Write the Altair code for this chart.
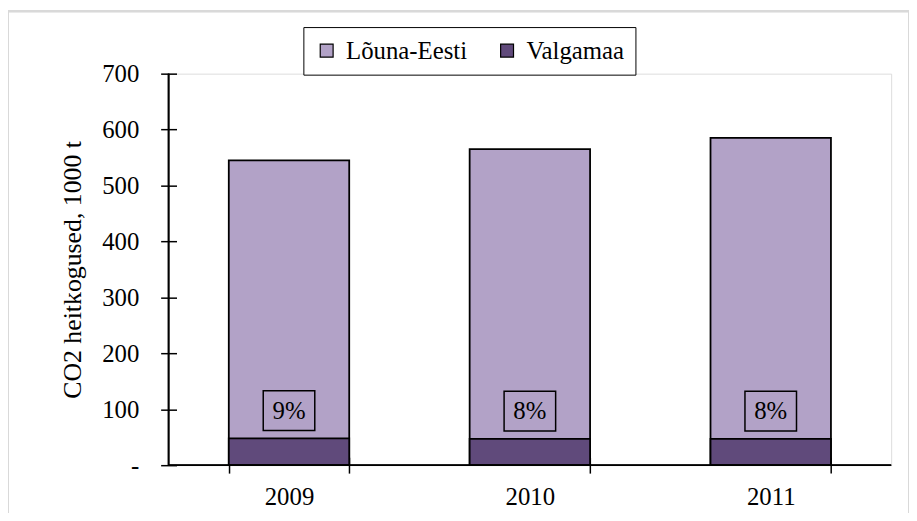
import altair as alt
import pandas as pd

years = ["2009", "2010", "2011"]
louna_eesti = [545, 565, 585]
valgamaa = [48, 47, 47]
series = ["Lõuna-Eesti", "Valgamaa"]
colors = ["#B2A2C7", "#604A7B"]
y_ticks = [0, 100, 200, 300, 400, 500, 600, 700]
y_title = "CO2 heitkogused, 1000 t"

FONT = "Liberation Serif"
FS = 25

rows = []
for i, yr in enumerate(years):
    rows.append({"year": yr, "series": series[0], "value": louna_eesti[i], "ord": 0})
    rows.append({"year": yr, "series": series[1], "value": valgamaa[i], "ord": 1})
bars_df = pd.DataFrame(rows)

share_df = pd.DataFrame({
    "year": years,
    "valgamaa": valgamaa,
    "share": [v / t for v, t in zip(valgamaa, louna_eesti)],
})

xscale = alt.Scale(domain=years, paddingInner=0.5, paddingOuter=0.25)
yscale = alt.Scale(domain=[0, 700], nice=False, zero=True)

W, H = 729, 395

bars = alt.Chart(bars_df).mark_bar(stroke="black", strokeWidth=1.8).encode(
    x=alt.X("year:N", scale=xscale, sort=years,
            axis=alt.Axis(title=None, tickBand="extent", labelAngle=0, offset=-8,
                          tickSize=16, tickWidth=1.5, tickColor="black",
                          domain=False,
                          labelFont=FONT, labelFontSize=FS, labelColor="black",
                          labelPadding=12, grid=False)),
    y=alt.Y("value:Q", scale=yscale, stack=None,
            axis=alt.Axis(title=y_title, values=y_ticks, offset=-8,
                          labelExpr="datum.value == 0 ? '-' : datum.label",
                          tickSize=16, tickWidth=1.5, tickColor="black",
                          domain=False,
                          labelFont=FONT, labelFontSize=FS, labelColor="black",
                          labelPadding=22, titleFont=FONT, titleFontSize=26,
                          titleFontWeight="normal", titleColor="black",
                          titlePadding=16, grid=False)),
    color=alt.Color("series:N", scale=alt.Scale(domain=series, range=colors),
                    legend=alt.Legend(title=None, orient="none", legendX=136, legendY=-47,
                                      direction="horizontal", symbolType="square",
                                      symbolSize=169, symbolStrokeColor="black",
                                      symbolStrokeWidth=1.2, labelFont=FONT,
                                      labelFontSize=FS, labelColor="black",
                                      columnPadding=27, labelOffset=7, padding=11,
                                      fillColor="white", strokeColor="black")),
    order=alt.Order("ord:Q"),
)

axis_lines_x = alt.Chart(share_df).mark_rule(color="black", strokeWidth=1.5).encode(
    x=alt.value(0), x2=alt.value(W), y=alt.value(H),
)
axis_lines_y = alt.Chart(share_df).mark_rule(color="black", strokeWidth=1.5).encode(
    x=alt.value(0), y=alt.value(0), y2=alt.value(H),
)

boxes = alt.Chart(share_df).mark_point(
    shape="M-1.3,-1L1.3,-1L1.3,1L-1.3,1Z", size=1600, filled=False,
    stroke="black", strokeWidth=1.5, yOffset=-28, opacity=1,
).encode(
    x=alt.X("year:N", scale=xscale, sort=years),
    y=alt.Y("valgamaa:Q", scale=yscale),
)

labels = alt.Chart(share_df).mark_text(
    font=FONT, fontSize=FS, color="black", baseline="middle", align="center", yOffset=-28,
).encode(
    x=alt.X("year:N", scale=xscale, sort=years),
    y=alt.Y("valgamaa:Q", scale=yscale),
    text=alt.Text("share:Q", format=".0%"),
)

frame = alt.Chart(share_df).mark_rect(fill=None, stroke="#D9D9D9", strokeWidth=2).encode(
    x=alt.value(-162), x2=alt.value(W + 18), y=alt.value(-63), y2=alt.value(H + 60),
)

chart = alt.layer(frame, bars, axis_lines_x, axis_lines_y, boxes, labels).properties(
    width=W, height=H,
    autosize=alt.AutoSizeParams(type="none"),
    padding={"left": 162, "top": 64, "right": 18, "bottom": 46},
).configure_view(stroke=None).configure(background="white")

chart.save("out.html", embed_options={"renderer": "svg", "actions": False})
